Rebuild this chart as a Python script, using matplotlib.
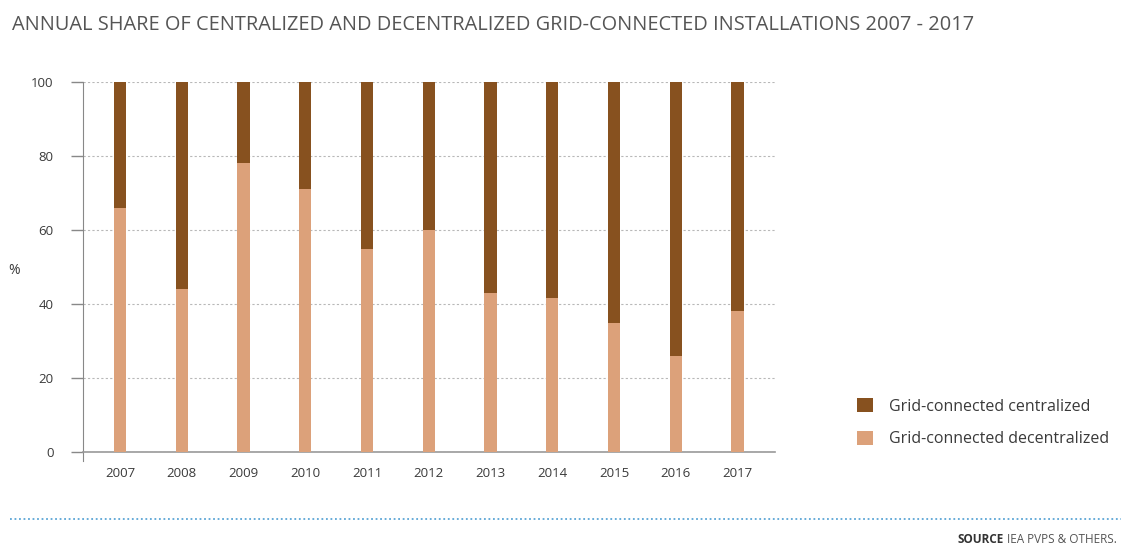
import matplotlib
matplotlib.use("Agg")
import matplotlib.pyplot as plt
from matplotlib.lines import Line2D
from matplotlib.patches import Patch

years = ["2007", "2008", "2009", "2010", "2011", "2012", "2013", "2014", "2015", "2016", "2017"]
decentralized = [66, 44, 78, 71, 55, 60, 43, 41.5, 35, 26, 38]
centralized = [100 - v for v in decentralized]

DARK = "#87511f"
LIGHT = "#dca17a"
TEXT = "#3a3a3a"
GRID = "#b8b8b8"

plt.rcParams["font.family"] = ["Open Sans", "DejaVu Sans"]

fig = plt.figure(figsize=(11.21, 5.47), dpi=100)
ax = fig.add_axes([0.074, 0.1737, 0.617, 0.6763])

x = range(len(years))
ax.bar(x, decentralized, width=0.2, color=LIGHT, zorder=3)
ax.bar(x, centralized, width=0.2, bottom=decentralized, color=DARK, zorder=3)

ax.set_xlim(-0.6, len(years) - 0.4)
ax.set_ylim(0, 100)
ax.set_yticks([0, 20, 40, 60, 80, 100])
ax.set_xticks(list(x))
ax.set_xticklabels(years)
ax.tick_params(axis="y", direction="out", length=9, width=1, color="#888888",
               labelsize=9.5, labelcolor=TEXT, pad=12)
ax.tick_params(axis="x", length=0, labelsize=9.5, labelcolor=TEXT, pad=11)
ax.grid(True, axis="y", linestyle=(0, (2, 2)), color=GRID, linewidth=0.8, zorder=0)

for side in ("top", "right"):
    ax.spines[side].set_visible(False)
ax.spines["left"].set_color("#888888")
ax.spines["bottom"].set_color("#999999")
ax.spines["bottom"].set_linewidth(1.2)
ax.spines["left"].set_bounds(-2.5, 100)

ax.set_ylabel("%", rotation=0, fontsize=10, color=TEXT)
ax.yaxis.set_label_coords(-0.1, 0.47)

fig.text(0.011, 0.955, "ANNUAL SHARE OF CENTRALIZED AND DECENTRALIZED GRID-CONNECTED INSTALLATIONS 2007 - 2017",
         fontsize=14.4, color="#555555", va="center", ha="left")

handles = [Patch(facecolor=DARK, edgecolor="none"), Patch(facecolor=LIGHT, edgecolor="none")]
fig.legend(handles, ["Grid-connected centralized", "Grid-connected decentralized"],
           loc="center left", bbox_to_anchor=(0.752, 0.227), frameon=False,
           fontsize=11.5, labelcolor=TEXT, handlelength=0.95, handleheight=0.95,
           handletextpad=1.0, labelspacing=1.0)

fig.add_artist(Line2D([0.009, 1.0], [0.051, 0.051], transform=fig.transFigure,
                      color="#5aa5d6", linewidth=1.3, linestyle=(0, (1, 1.5))))

# source line: bold tag placed just left of the plain text
src = fig.text(0.996, 0.013, "IEA PVPS & OTHERS.", fontsize=8.5, color="#555555",
               ha="right", va="center")
renderer = fig.canvas.get_renderer()
bb = src.get_window_extent(renderer)
left = fig.transFigure.inverted().transform((bb.x0 - 3, 0))[0]
fig.text(left, 0.013, "SOURCE", fontsize=8.5, color="#333333", fontweight="bold",
         ha="right", va="center")

fig.savefig("out.png", dpi=100, facecolor="white")
